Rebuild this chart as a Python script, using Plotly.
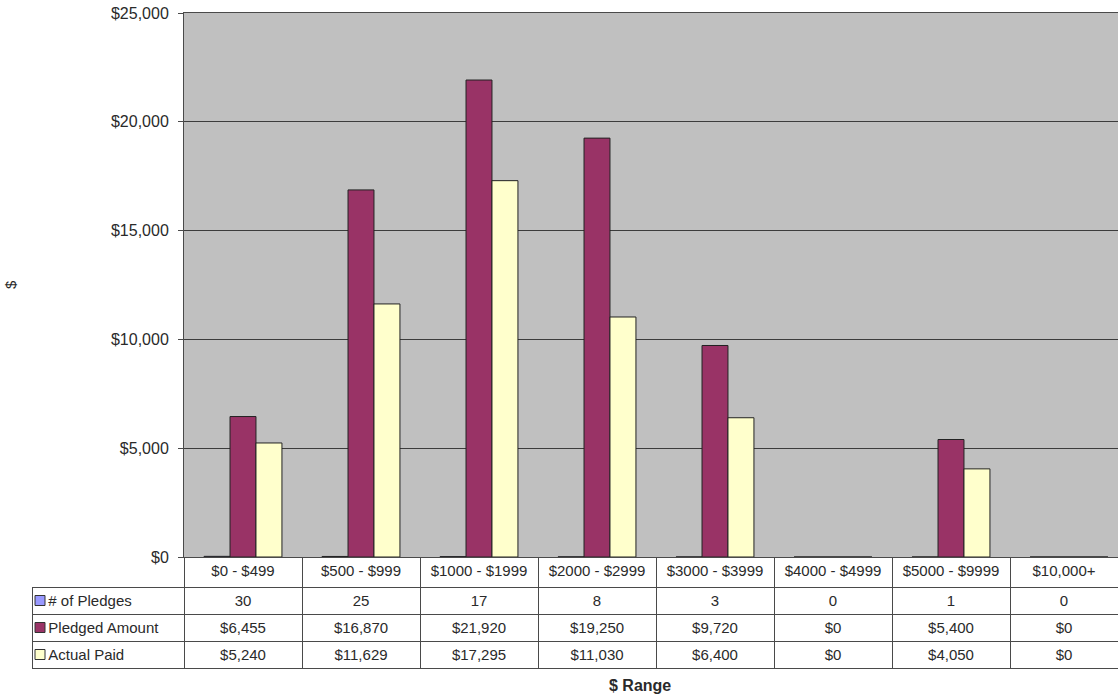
import plotly.graph_objects as go

W, H = 1118, 695

categories = ["$0 - $499", "$500 - $999", "$1000 - $1999", "$2000 - $2999",
              "$3000 - $3999", "$4000 - $4999", "$5000 - $9999", "$10,000+"]
num_pledges = [30, 25, 17, 8, 3, 0, 1, 0]
pledged_amount = [6455, 16870, 21920, 19250, 9720, 0, 5400, 0]
actual_paid = [5240, 11629, 17295, 11030, 6400, 0, 4050, 0]
series_names = ["# of Pledges", "Pledged Amount", "Actual Paid"]
series_colors = ["#9999FF", "#993366", "#FFFFCC"]
y_ticks = [0, 5000, 10000, 15000, 20000, 25000]
y_ticktext = ["$0", "$5,000", "$10,000", "$15,000", "$20,000", "$25,000"]

FONT = "Liberation Sans, Arial, sans-serif"
TXT = "#2a2a2a"
LINE = "#4a4a4a"
CLEAR = "rgba(0,0,0,0)"

def fx(px):
    return px / W
def fy(py):
    return 1 - py / H

# pixel layout helpers
plot_l, plot_t, plot_b = 184, 13, 557
plot_r = W
tab_l, tab_b = 32, 669
head_h, row_h = 30, 27
cat_w = 118.0

fig = go.Figure()
for name, vals, col in zip(series_names, [num_pledges, pledged_amount, actual_paid], series_colors):
    fig.add_trace(go.Bar(
        x=list(range(len(categories))), y=vals, name=name,
        marker=dict(color=col, line=dict(color="#222222", width=1)),
        showlegend=False, hoverinfo="x+y"))

# data table under the chart
legend_cells = ["\u00a0\u00a0" + n for n in series_names]
cell_cols = [legend_cells]
for i in range(len(categories)):
    cell_cols.append([str(num_pledges[i]), f"${pledged_amount[i]:,}", f"${actual_paid[i]:,}"])

last_w = plot_r - (plot_l + cat_w * (len(categories) - 1))
colwidths = [plot_l - tab_l] + [cat_w] * (len(categories) - 1) + [last_w]

fig.add_trace(go.Table(
    domain=dict(x=[fx(tab_l), 1], y=[fy(tab_b), fy(plot_b)]),
    columnwidth=colwidths,
    header=dict(values=[""] + categories,
                fill=dict(color=[CLEAR] + ["white"] * len(categories)),
                line=dict(color=[CLEAR] + [LINE] * len(categories), width=1),
                align="center", height=head_h,
                font=dict(family=FONT, size=15, color=TXT)),
    cells=dict(values=cell_cols,
               fill=dict(color="white"),
               line=dict(color=LINE, width=1),
               align=["left"] + ["center"] * len(categories), height=row_h,
               font=dict(family=FONT, size=15, color=TXT)),
))

# legend swatches inside the table's first column
shapes = []
for k, col in enumerate(series_colors):
    cy = plot_b + head_h + row_h * k + row_h / 2
    shapes.append(dict(type="rect", xref="paper", yref="paper",
                       x0=fx(35), x1=fx(45), y0=fy(cy + 5), y1=fy(cy - 5),
                       fillcolor=col, line=dict(color="#333333", width=1)))

fig.update_layout(
    width=W, height=H,
    margin=dict(l=0, r=0, t=0, b=0, pad=0),
    paper_bgcolor="white", plot_bgcolor="#C0C0C0",
    barmode="group", bargap=0.34, bargroupgap=0,
    font=dict(family=FONT, size=16, color=TXT),
    xaxis=dict(domain=[fx(plot_l), 1], range=[-0.5, -0.5 + (plot_r - plot_l) / cat_w],
               showticklabels=False, ticks="", showgrid=False, zeroline=False,
               showline=True, mirror=True, linecolor=LINE, fixedrange=True, automargin=False),
    yaxis=dict(domain=[fy(plot_b), fy(plot_t)], range=[0, 25000],
               tickmode="array", tickvals=y_ticks, ticktext=y_ticktext,
               showgrid=True, gridcolor="#3c3c3c", gridwidth=1, zeroline=False,
               showline=True, linecolor=LINE, ticks="outside", ticklen=5, tickcolor=LINE,
               ticklabelstandoff=6, ticklabeloverflow="allow",
               tickfont=dict(family=FONT, size=16, color=TXT), fixedrange=True,
               automargin=False),
    shapes=shapes,
    annotations=[
        dict(text="$", xref="paper", yref="paper", x=fx(10), y=fy(285),
             xanchor="center", yanchor="middle",
             showarrow=False, textangle=-90, font=dict(family=FONT, size=15, color=TXT)),
        dict(text="<b>$ Range</b>", xref="paper", yref="paper", x=fx(640), y=fy(685),
             xanchor="center", yanchor="middle",
             showarrow=False, font=dict(family=FONT, size=16, color=TXT)),
    ],
)

fig.write_html("out.html", config={"displayModeBar": False},
               post_script="document.body.style.margin='0';document.body.style.overflow='hidden';")
